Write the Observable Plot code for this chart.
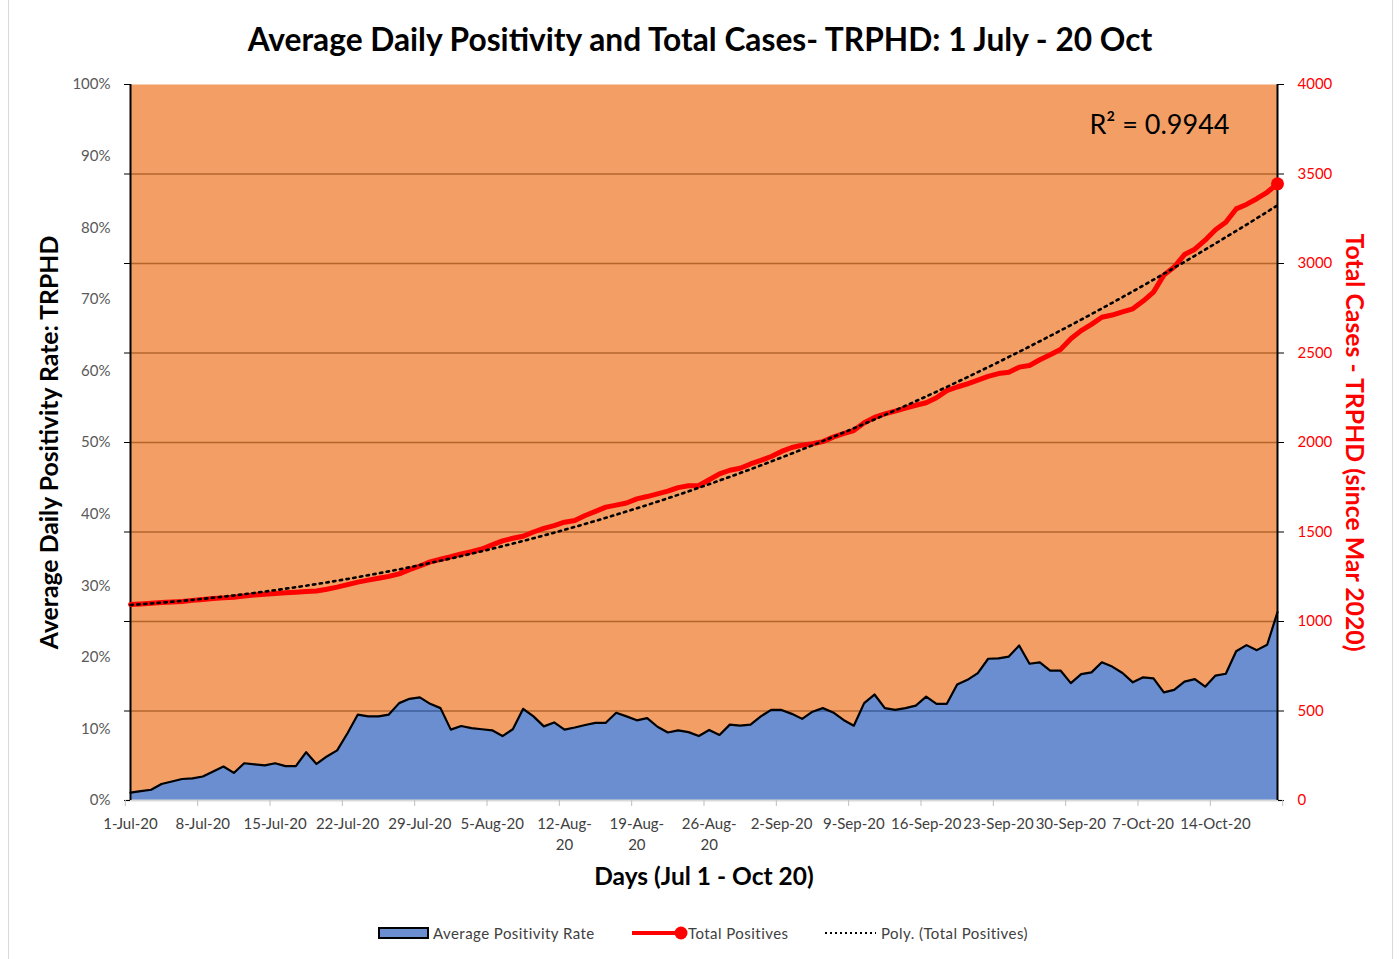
<!DOCTYPE html>
<html><head><meta charset="utf-8">
<script src="https://cdn.jsdelivr.net/npm/d3@7"></script>
<script src="https://cdn.jsdelivr.net/npm/@observablehq/plot@0.6"></script>
<style>
body{margin:0;background:#fff;font-family:Lato,sans-serif}
#wrap{position:relative;width:1400px;height:959px;overflow:hidden;background:#fff}
#border{position:absolute;left:8px;top:-2px;width:1385px;height:963px;border:1px solid #d9d9d9;box-sizing:border-box}
#title{position:absolute;top:20px;left:0;width:1400px;text-align:center;font:bold 31.7px/38px Lato,sans-serif;color:#000}
#chart{position:absolute;left:0;top:60px}
.lg{position:absolute;top:924px;font:15px/18px Lato,sans-serif;color:#404040;letter-spacing:0.45px;white-space:nowrap}
.sw{position:absolute}
</style></head>
<body>
<div id="wrap">
  <div id="border"></div>
  <div id="title"></div>
  <div id="chart"></div>
  <div id="legend"></div>
</div>
<script>
// ---------- data ----------
const chartTitle = "Average Daily Positivity and Total Cases- TRPHD: 1 July - 20 Oct";
const leftTitle = "Average Daily Positivity Rate: TRPHD";
const rightTitle = "Total Cases - TRPHD (since Mar 2020)";
const xTitle = "Days (Jul 1 - Oct 20)";
const r2Text = "R² = 0.9944";
const seriesNames = ["Average Positivity Rate", "Total Positives", "Poly. (Total Positives)"];

// days 1 Jul 2020 .. 20 Oct 2020
const dates = d3.utcDay.range(new Date(Date.UTC(2020, 6, 1)), new Date(Date.UTC(2020, 9, 21)));

// average positivity rate (%)
const positivity = [
  1.1, 1.3, 1.5, 2.3, 2.65, 3.0, 3.1, 3.35, 4.05, 4.75,
  3.85, 5.2, 5.05, 4.9, 5.2, 4.8, 4.8, 6.75, 5.1, 6.15,
  7.0, 9.4, 12.0, 11.75, 11.75, 12.0, 13.6, 14.2, 14.4, 13.5,
  12.9, 9.9, 10.4, 10.1, 9.95, 9.8, 9.0, 9.95, 12.8, 11.75,
  10.35, 10.9, 9.9, 10.2, 10.55, 10.85, 10.85, 12.25, 11.75, 11.2,
  11.5, 10.3, 9.5, 9.8, 9.55, 9.0, 9.85, 9.15, 10.6, 10.45,
  10.6, 11.75, 12.65, 12.65, 12.1, 11.4, 12.4, 12.9, 12.3, 11.25,
  10.45, 13.6, 14.8, 12.9, 12.65, 12.9, 13.25, 14.5, 13.5, 13.5,
  16.2, 16.85, 17.8, 19.8, 19.85, 20.1, 21.65, 19.1, 19.3, 18.15,
  18.15, 16.4, 17.65, 17.9, 19.3, 18.7, 17.8, 16.5, 17.2, 17.05,
  15.1, 15.45, 16.6, 16.95, 15.9, 17.45, 17.7, 20.85, 21.7, 21.0,
  21.75, 26.3
];

// total positives (cumulative since Mar 2020)
const totals = [
  1095, 1098, 1102, 1106, 1109, 1112, 1118, 1123, 1128, 1132,
  1136, 1142, 1148, 1152, 1157, 1160, 1163, 1167, 1170, 1180,
  1192, 1206, 1220, 1231, 1242, 1252, 1266, 1290, 1310, 1333,
  1348, 1362, 1378, 1390, 1405, 1428, 1450, 1465, 1476, 1500,
  1520, 1536, 1555, 1564, 1592, 1615, 1639, 1650, 1662, 1685,
  1698, 1713, 1728, 1748, 1758, 1760, 1792, 1825, 1845, 1856,
  1880, 1900, 1922, 1950, 1972, 1985, 1993, 2005, 2030, 2050,
  2067, 2110, 2140, 2160, 2175, 2192, 2208, 2222, 2250, 2290,
  2310, 2328, 2348, 2369, 2385, 2393, 2421, 2430, 2462, 2490,
  2520, 2580, 2625, 2660, 2700, 2712, 2730, 2747, 2790, 2840,
  2935, 2980, 3050, 3080, 3130, 3188, 3230, 3305, 3330, 3362,
  3398, 3445
];

const leftTicks = [0, 10, 20, 30, 40, 50, 60, 70, 80, 90, 100];      // %
const rightTicks = [0, 500, 1000, 1500, 2000, 2500, 3000, 3500, 4000]; // cases
const rightMax = 4000;
const xTickLabels = ["1-Jul-20","8-Jul-20","15-Jul-20","22-Jul-20","29-Jul-20","5-Aug-20",
  "12-Aug-\n20","19-Aug-\n20","26-Aug-\n20","2-Sep-20","9-Sep-20","16-Sep-20","23-Sep-20",
  "30-Sep-20","7-Oct-20","14-Oct-20"];

// ---------- colours ----------
const ORANGE = "#F29E65", BLUE = "#6A8ECF", GRID = "#B5642C", GRIDBLUE = "#3E5E9B", RED = "#FF0000";

// ---------- derived tables ----------
const data = dates.map((d, i) => ({date: d, pos: positivity[i] / 100, total: totals[i], t: totals[i] / rightMax}));
const tickDates = xTickLabels.map((_, k) => dates[k * 7]);
const labelMap = new Map(tickDates.map((d, k) => [+d, xTickLabels[k]]));
const xTickMarks = tickDates.map(d => d3.utcHour.offset(d, -12)).concat([d3.utcHour.offset(dates[dates.length - 1], 12)]);
const gridVals = rightTicks.filter(v => v > 0 && v < rightMax).map(v => v / rightMax);

// polynomial (order 2) trendline of total positives, least squares
function polyfit(xs, ys, order) {
  const n = order + 1;
  const A = Array.from({length: n}, () => Array(n + 1).fill(0));
  xs.forEach((x, k) => {
    for (let i = 0; i < n; i++) {
      for (let j = 0; j < n; j++) A[i][j] += Math.pow(x, i + j);
      A[i][n] += ys[k] * Math.pow(x, i);
    }
  });
  for (let c = 0; c < n; c++) {
    let p = c;
    for (let r = c + 1; r < n; r++) if (Math.abs(A[r][c]) > Math.abs(A[p][c])) p = r;
    [A[c], A[p]] = [A[p], A[c]];
    for (let r = 0; r < n; r++) if (r !== c) {
      const f = A[r][c] / A[c][c];
      for (let k = c; k <= n; k++) A[r][k] -= f * A[c][k];
    }
  }
  return A.map((row, i) => row[n] / row[i]);
}
const idx = data.map((_, i) => i + 1);
const coef = polyfit(idx, totals, 2);
const trend = data.map((d, i) => ({date: d.date, t: coef.reduce((s, c, p) => s + c * Math.pow(i + 1, p), 0) / rightMax}));

// ---------- chart ----------
const chart = Plot.plot({
  width: 1400, height: 840,
  marginTop: 24, marginBottom: 100, marginLeft: 130, marginRight: 123,
  style: {fontFamily: "Lato, sans-serif", fontSize: "14px", background: "transparent", overflow: "visible"},
  x: {type: "utc", domain: [dates[0], dates[dates.length - 1]], axis: null},
  y: {domain: [0, 1], axis: null},
  marks: [
    Plot.frame({fill: ORANGE, stroke: null}),
    Plot.ruleY(gridVals, {stroke: GRID, strokeWidth: 1.6}),
    Plot.areaY(data, {x: "date", y: "pos", fill: BLUE}),
    Plot.ruleY(gridVals, {stroke: GRIDBLUE, strokeWidth: 1.6}),
    Plot.lineY(data, {x: "date", y: "pos", stroke: "#000", strokeWidth: 2.2}),
    Plot.ruleY([0], {stroke: "#d9d9d9", strokeWidth: 2, x1: xTickMarks[0], x2: xTickMarks[xTickMarks.length - 1]}),
    Plot.ruleX([dates[0]], {stroke: "#000", strokeWidth: 2}),
    Plot.ruleX([dates[dates.length - 1]], {stroke: "#000", strokeWidth: 2}),
    Plot.line(data, {x: "date", y: "t", stroke: RED, strokeWidth: 5}),
    Plot.dot([data[data.length - 1]], {x: "date", y: "t", r: 6.5, fill: RED}),
    Plot.line(trend, {x: "date", y: "t", stroke: "#000", strokeWidth: 2.6, strokeDasharray: "2.4 4.4"}),
    // left axis
    Plot.axisY(leftTicks.map(v => v / 100), {anchor: "left", tickSize: 0, tickPadding: 20, color: "#595959", fontSize: 15,
      tickFormat: d => `${Math.round(d * 100)}%`, label: null}),
    Plot.axisY(rightTicks.map(v => v / rightMax), {anchor: "left", tickSize: 6, tickFormat: () => "", color: "#000", label: null}),
    // right axis
    Plot.axisY(rightTicks.map(v => v / rightMax), {anchor: "right", tickSize: 6, tickFormat: () => "", color: "#000", label: null}),
    Plot.axisY(rightTicks.map(v => v / rightMax), {anchor: "right", tickSize: 0, tickPadding: 20, color: RED, fontSize: 15,
      tickFormat: d => `${Math.round(d * rightMax)}`, label: null}),
    // x axis
    Plot.axisX(xTickMarks, {anchor: "bottom", tickSize: 6, tickFormat: () => "", color: "#bfbfbf", label: null}),
    Plot.axisX(tickDates, {anchor: "bottom", tickSize: 0, tickPadding: 14, color: "#404040", fontSize: 15, lineHeight: 1.4,
      tickFormat: d => labelMap.get(+d), label: null}),
    // titles
    Plot.text([leftTitle], {text: d => d, frameAnchor: "left", dx: -80, rotate: -90, textAnchor: "middle", lineAnchor: "middle",
      fontSize: 24.8, fontWeight: "bold", fill: "#000"}),
    Plot.text([rightTitle], {text: d => d, frameAnchor: "right", dx: 76, rotate: 90, textAnchor: "middle", lineAnchor: "middle",
      fontSize: 24.8, fontWeight: "bold", fill: RED}),
    Plot.text([xTitle], {text: d => d, frameAnchor: "bottom", dy: 77, textAnchor: "middle", lineAnchor: "middle",
      fontSize: 24.5, fontWeight: "bold", fill: "#000"}),
    Plot.text([r2Text], {text: d => d, frameAnchor: "top-right", dx: -48, dy: 41, lineAnchor: "middle", textAnchor: "end",
      fontSize: 27, fill: "#000"})
  ]
});

// grid lines look dark blue where they cross the blue area: clip that copy of the grid to the area shape
(function () {
  const ns = "http://www.w3.org/2000/svg";
  const areaPath = chart.querySelector('g[aria-label="area"] path');
  const gridOver = chart.querySelector(`g[aria-label="rule"][stroke="${GRIDBLUE}"]`);
  if (areaPath && gridOver) {
    const defs = document.createElementNS(ns, "defs");
    const cp = document.createElementNS(ns, "clipPath");
    cp.setAttribute("id", "areaClip");
    const p = document.createElementNS(ns, "path");
    p.setAttribute("d", areaPath.getAttribute("d"));
    const tr = gridOver.getAttribute("transform");
    if (tr) {
      const m = /translate\(([-\d.]+)(?:[,\s]+([-\d.]+))?\)/.exec(tr);
      if (m) p.setAttribute("transform", `translate(${-(+m[1] || 0)},${-(+m[2] || 0)})`);
    }
    cp.appendChild(p); defs.appendChild(cp); chart.insertBefore(defs, chart.firstChild);
    gridOver.setAttribute("clip-path", "url(#areaClip)");
  }
})();

document.getElementById("chart").appendChild(chart);
document.getElementById("title").textContent = chartTitle;

// legend
const legend = document.getElementById("legend");
legend.innerHTML = `
  <svg class="sw" style="left:378px;top:926px" width="52" height="14"><rect x="1" y="2" width="49" height="10" fill="${BLUE}" stroke="#000" stroke-width="2"/></svg>
  <div class="lg" style="left:433px">${seriesNames[0]}</div>
  <svg class="sw" style="left:630px;top:925px" width="60" height="16"><line x1="2" y1="8" x2="50" y2="8" stroke="${RED}" stroke-width="4"/><circle cx="51" cy="8" r="6.5" fill="${RED}"/></svg>
  <div class="lg" style="left:688px">${seriesNames[1]}</div>
  <svg class="sw" style="left:824px;top:926px" width="54" height="14"><line x1="1" y1="7" x2="52" y2="7" stroke="#000" stroke-width="2.2" stroke-dasharray="2 3"/></svg>
  <div class="lg" style="left:881px">${seriesNames[2]}</div>`;
</script>
</body></html>
